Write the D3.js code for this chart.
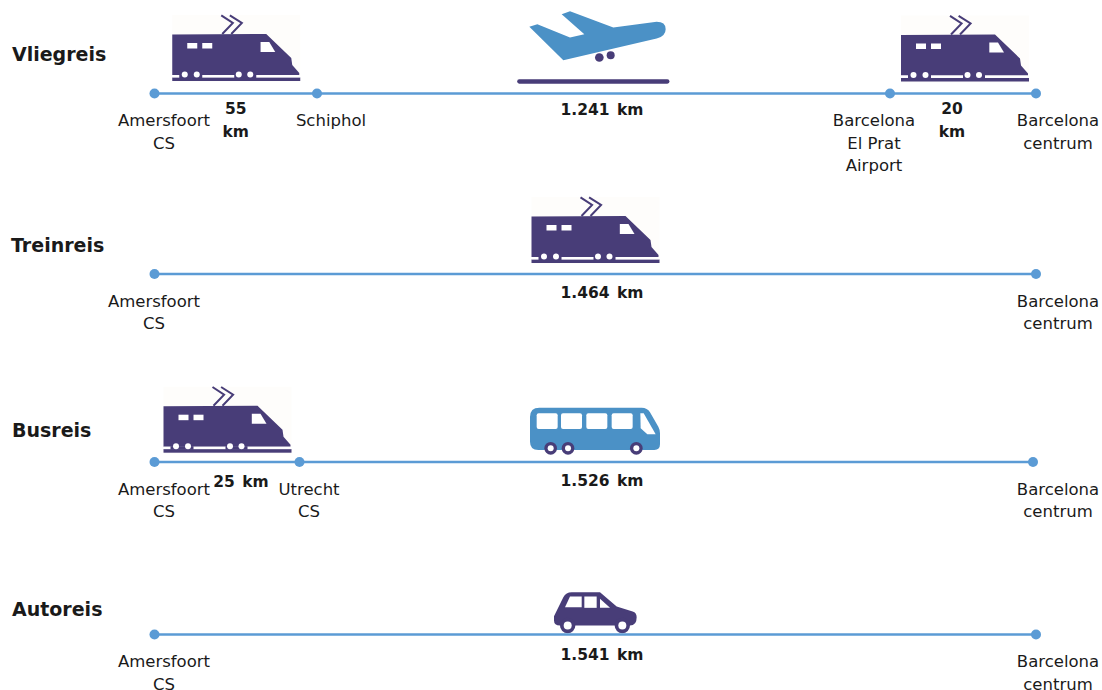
<!DOCTYPE html>
<html>
<head>
    <title>Reisafstanden Amersfoort - Barcelona</title>
    <style>
        body { margin: 0; background: white; }
        text { font-family: "DejaVu Sans", sans-serif; fill: #1a1a1a; }
        .row-name { font-size: 19px; font-weight: bold; }
        .stop-label { font-size: 16.5px; text-anchor: middle; }
        .km-label { font-size: 15.5px; font-weight: bold; text-anchor: middle; word-spacing: 2px; }
    </style>
</head>
<body>
    <svg id="chart" width="1102" height="690" style="display:block"></svg>

    <script src="https://cdnjs.cloudflare.com/ajax/libs/d3/7.8.5/d3.min.js"></script>
    <script>
        // Data
        const rowNames = ['Vliegreis', 'Treinreis', 'Busreis', 'Autoreis'];
        const legKm = [[55, 1241, 20], [1464], [25, 1526], [1541]];
        const legModes = [['train', 'plane', 'train'], ['train'], ['train', 'bus'], ['car']];
        const stopNames = [
            [['Amersfoort', 'CS'], ['Schiphol'], ['Barcelona', 'El Prat', 'Airport'], ['Barcelona', 'centrum']],
            [['Amersfoort', 'CS'], ['Barcelona', 'centrum']],
            [['Amersfoort', 'CS'], ['Utrecht', 'CS'], ['Barcelona', 'centrum']],
            [['Amersfoort', 'CS'], ['Barcelona', 'centrum']]
        ];

        // Layout: the km axis of each row is schematic, so every row gets its own piecewise scale
        const rowY = { Vliegreis: 93.5, Treinreis: 274, Busreis: 462, Autoreis: 634.5 };
        const titleY = { Vliegreis: 61, Treinreis: 252, Busreis: 437, Autoreis: 616 };
        const stopRange = [[154.5, 317, 890, 1036], [154.5, 1036], [154.5, 299.5, 1033], [154.5, 1036]];
        const labelShift = [[9.5, 14, -16, 22], [-0.5, 22], [9.5, 9.5, 25], [9.5, 22]];
        const kmLabelPos = [
            [{ dx: 0, dy: 20, lines: 2 }, { x: 602, dy: 21 }, { dx: -11, dy: 20, lines: 2 }],
            [{ x: 602, dy: 24 }],
            [{ dx: 14, dy: 25 }, { x: 602, dy: 24 }],
            [{ x: 602, dy: 25 }]
        ];
        const iconCenter = 595;
        const trainLift = [[12.5, null, 12], [11], [9.3, null], [null]];
        const lineHeight = 22.5;

        const purple = '#483d78', blue = '#4b91c6', lineBlue = '#5b9bd5';
        const svg = d3.select('#chart');
        const kmFormat = v => d3.format(',')(v).replace(/,/g, '.');

        function drawTrain(g) {
            // local origin: left end of the rail, bottom edge
            g.append('rect').attr('x', 0).attr('y', -66).attr('width', 128).attr('height', 67).attr('fill', '#fefdfb');
            g.append('path').attr('fill', purple)
                .attr('d', 'M0,-46.5 L94,-47 L119,-23 L120,-16 L127,-8 L127,-6 L0,-6 Z');
            g.append('rect').attr('x', 0).attr('y', -3.6).attr('width', 128).attr('height', 3.6).attr('fill', purple);
            g.append('rect').attr('x', 0).attr('y', -6).attr('width', 128).attr('height', 2.4).attr('fill', 'white');
            [[7, 30], [62, 84]].forEach(p => {
                g.append('rect').attr('x', p[0]).attr('y', -6.5).attr('width', p[1] - p[0]).attr('height', 3.5).attr('fill', purple);
            });
            [12.5, 24.5, 66.5, 78].forEach(x => {
                g.append('circle').attr('cx', x).attr('cy', -6.5).attr('r', 3).attr('fill', 'white');
            });
            [15, 30].forEach(x => {
                g.append('rect').attr('x', x).attr('y', -38).attr('width', 10).attr('height', 5.5).attr('fill', 'white');
            });
            g.append('path').attr('fill', 'white').attr('d', 'M88.3,-39 L97,-39 L103,-29 L88.3,-29 Z');
            ['M50,-47 L60.6,-58 L49,-65.7', 'M59,-47 L69.6,-58 L57.6,-65.7'].forEach(d => {
                g.append('path').attr('d', d).attr('fill', 'none').attr('stroke', purple).attr('stroke-width', 2);
            });
        }

        function drawPlane(g) {
            // path in 3x crop coordinates, anchored on the line below the icon
            const p = g.append('g').attr('transform', 'scale(0.3333) translate(-285,-280)');
            p.append('path').attr('fill', blue)
                .attr('d', 'M185,42 L210,33 L340,82 L470,65 Q497,65 497,87 Q497,108 470,115 L190,180 L88,80 L112,72 L210,112 L253,102 Z');
            [[298, 172, 13], [332, 165, 12]].forEach(c => {
                p.append('circle').attr('cx', c[0]).attr('cy', c[1]).attr('r', c[2]).attr('fill', purple);
            });
            p.append('line').attr('x1', 58).attr('x2', 502).attr('y1', 244).attr('y2', 244)
                .attr('stroke', purple).attr('stroke-width', 13).attr('stroke-linecap', 'round');
        }

        function drawBus(g) {
            const p = g.append('g').attr('transform', 'scale(0.3333) translate(-255,-201)');
            p.append('path').attr('fill', blue)
                .attr('d', 'M88,38 L395,38 Q412,38 420,52 L445,95 Q450,104 450,115 L450,148 Q450,165 433,165 L85,165 Q60,165 60,140 L60,66 Q60,38 88,38 Z');
            [80, 153, 229, 305].forEach(x => {
                p.append('rect').attr('x', x).attr('y', 55).attr('width', 63).attr('height', 47).attr('rx', 6).attr('fill', 'white');
            });
            p.append('path').attr('fill', 'white').attr('d', 'M391,55 L401,55 L437,118 L412,118 L392,100 Z');
            [122, 174, 379].forEach(x => {
                p.append('circle').attr('cx', x).attr('cy', 160).attr('r', 19).attr('fill', purple);
                p.append('circle').attr('cx', x).attr('cy', 160).attr('r', 9).attr('fill', 'white');
            });
        }

        function drawCar(g) {
            const p = g.append('g').attr('transform', 'scale(0.3333) translate(-225,-177)');
            p.append('path').attr('fill', purple)
                .attr('d', 'M102,122 L130,65 Q138,50 155,50 L240,50 L290,93 L338,108 Q350,112 350,125 Q350,150 330,150 L120,150 Q102,150 102,135 Z');
            p.append('path').attr('fill', 'white').attr('d', 'M135,95 L150,63 L185,63 L185,95 Z');
            p.append('rect').attr('x', 193).attr('y', 63).attr('width', 37).attr('height', 34).attr('fill', 'white');
            p.append('path').attr('fill', 'white').attr('d', 'M240,70 L270,97 L240,97 Z');
            [143, 307].forEach(x => {
                p.append('circle').attr('cx', x).attr('cy', 150).attr('r', 23).attr('fill', purple);
                p.append('circle').attr('cx', x).attr('cy', 150).attr('r', 12).attr('fill', 'white');
            });
        }

        rowNames.forEach((name, r) => {
            const y = rowY[name];
            const cumKm = d3.cumsum([0].concat(legKm[r]));
            const x = d3.scaleLinear().domain(cumKm).range(stopRange[r]);
            const g = svg.append('g').attr('class', 'row');

            g.append('text').attr('class', 'row-name')
                .attr('x', r === 1 ? 11 : 12).attr('y', titleY[name]).text(name);

            // Icons go under the line
            legModes[r].forEach((mode, i) => {
                const mid = (x(cumKm[i]) + x(cumKm[i + 1])) / 2;
                const short = legKm[r][i] < 100;
                if (mode === 'train') {
                    const cx = short ? mid + (i > 0 ? 1.5 : 0) : iconCenter;
                    const t = g.append('g').attr('transform', `translate(${cx - 63.5},${y - trainLift[r][i]})`);
                    drawTrain(t);
                } else {
                    const t = g.append('g').attr('transform', `translate(${iconCenter},${y})`);
                    if (mode === 'plane') drawPlane(t);
                    if (mode === 'bus') drawBus(t);
                    if (mode === 'car') drawCar(t);
                }
            });

            // Line and stops
            g.selectAll('line.leg').data(legKm[r]).join('line')
                .attr('class', 'leg')
                .attr('x1', (d, i) => x(cumKm[i]))
                .attr('x2', (d, i) => x(cumKm[i + 1]))
                .attr('y1', y).attr('y2', y)
                .attr('stroke', lineBlue).attr('stroke-width', 2.5);

            g.selectAll('circle.stop').data(cumKm).join('circle')
                .attr('class', 'stop')
                .attr('cx', d => x(d)).attr('cy', y).attr('r', 5)
                .attr('fill', lineBlue);

            // Stop names
            stopNames[r].forEach((lines, i) => {
                const text = g.append('text').attr('class', 'stop-label');
                lines.forEach((line, k) => {
                    text.append('tspan')
                        .attr('x', x(cumKm[i]) + labelShift[r][i])
                        .attr('y', y + 32.5 + k * lineHeight)
                        .text(line);
                });
            });

            // Km labels
            legKm[r].forEach((km, i) => {
                const pos = kmLabelPos[r][i];
                const mid = (x(cumKm[i]) + x(cumKm[i + 1])) / 2;
                const lx = pos.x !== undefined ? pos.x : mid + pos.dx;
                const text = g.append('text').attr('class', 'km-label');
                const parts = pos.lines === 2 ? [kmFormat(km), 'km'] : [kmFormat(km) + ' km'];
                parts.forEach((part, k) => {
                    text.append('tspan')
                        .attr('x', lx).attr('y', y + pos.dy + k * 23)
                        .text(part);
                });
            });
        });
    </script>
</body>
</html>
